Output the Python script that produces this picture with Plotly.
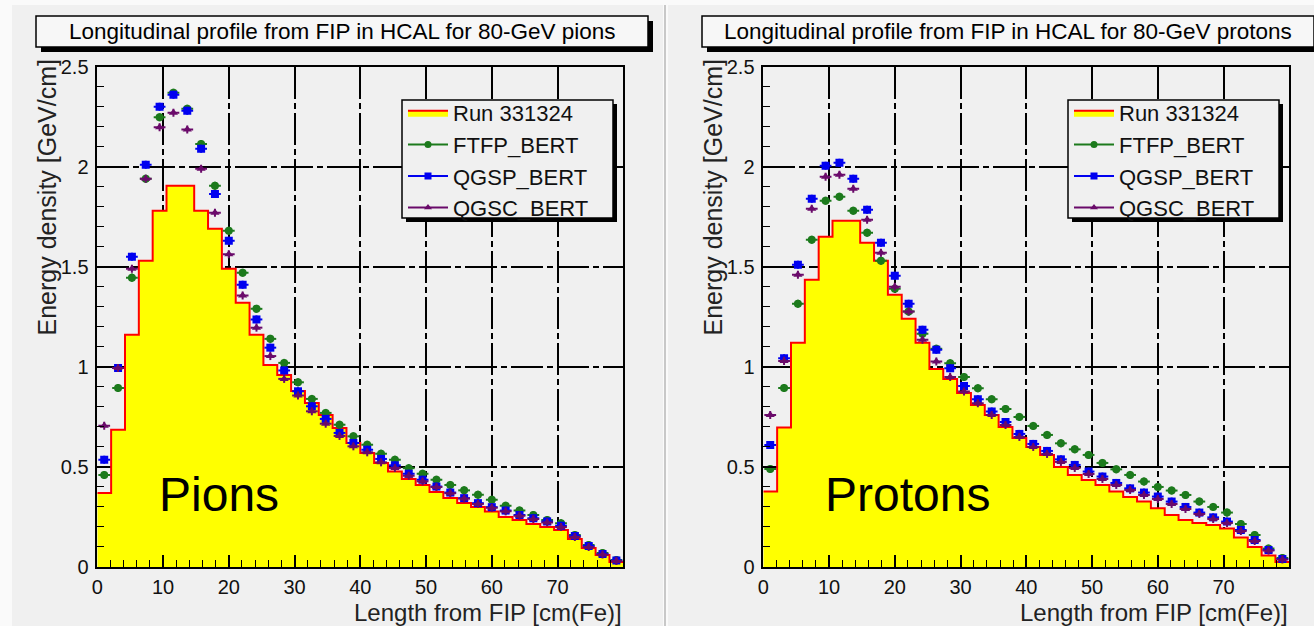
import numpy as np
import plotly.graph_objects as go

W, H = 1314, 626

# ---------------- data ----------------
N_BINS = 38
X_MAX = 80.0
edges = np.linspace(0, X_MAX, N_BINS + 1)
centers = 0.5 * (edges[:-1] + edges[1:])
half_w = 0.5 * (edges[1] - edges[0])

pion_run = [0.37, 0.686, 1.16, 1.53, 1.78, 1.905, 1.905, 1.78, 1.69, 1.49, 1.32, 1.16, 1.01, 0.96,
            0.88, 0.82, 0.76, 0.695, 0.62, 0.57, 0.52, 0.477, 0.44, 0.41, 0.375, 0.345, 0.32, 0.30,
            0.277, 0.25, 0.235, 0.215, 0.20, 0.185, 0.14, 0.095, 0.06, 0.025]
pion_ftfp = [0.46, 0.895, 1.446, 1.94, 2.248, 2.37, 2.29, 2.114, 1.905, 1.68, 1.47, 1.29, 1.14, 1.02,
             0.923, 0.84, 0.77, 0.711, 0.653, 0.611, 0.566, 0.536, 0.494, 0.466, 0.436, 0.41, 0.383,
             0.361, 0.336, 0.306, 0.282, 0.26, 0.235, 0.219, 0.16, 0.11, 0.07, 0.035]
pion_qgsp = [0.536, 0.995, 1.55, 2.01, 2.30, 2.36, 2.28, 2.09, 1.864, 1.63, 1.41, 1.237, 1.096, 0.982,
             0.878, 0.803, 0.74, 0.67, 0.62, 0.586, 0.54, 0.508, 0.466, 0.436, 0.402, 0.372, 0.344,
             0.319, 0.299, 0.282, 0.26, 0.244, 0.227, 0.206, 0.155, 0.105, 0.065, 0.032]
pion_qgsc = [0.706, 0.995, 1.49, 1.94, 2.198, 2.27, 2.186, 1.99, 1.77, 1.563, 1.357, 1.196, 1.054, 0.94,
             0.857, 0.778, 0.716, 0.655, 0.603, 0.573, 0.523, 0.495, 0.456, 0.428, 0.40, 0.369, 0.342,
             0.315, 0.296, 0.278, 0.256, 0.24, 0.222, 0.20, 0.15, 0.10, 0.062, 0.03]

proton_run = [0.377, 0.697, 1.12, 1.435, 1.65, 1.73, 1.73, 1.62, 1.53, 1.36, 1.24, 1.12, 0.99, 0.94,
              0.87, 0.81, 0.76, 0.70, 0.645, 0.60, 0.56, 0.50, 0.46, 0.435, 0.41, 0.377, 0.35, 0.327,
              0.293, 0.26, 0.235, 0.22, 0.21, 0.193, 0.148, 0.10, 0.058, 0.025]
proton_ftfp = [0.49, 0.894, 1.315, 1.635, 1.83, 1.85, 1.78, 1.67, 1.53, 1.39, 1.277, 1.165, 1.09, 1.018,
               0.95, 0.893, 0.838, 0.79, 0.75, 0.705, 0.66, 0.618, 0.588, 0.56, 0.52, 0.488, 0.46,
               0.427, 0.40, 0.382, 0.36, 0.327, 0.30, 0.272, 0.215, 0.16, 0.092, 0.045]
proton_qgsp = [0.61, 1.043, 1.51, 1.84, 2.005, 2.02, 1.94, 1.785, 1.62, 1.455, 1.315, 1.185, 1.085, 0.993,
               0.905, 0.838, 0.777, 0.725, 0.665, 0.615, 0.58, 0.538, 0.51, 0.477, 0.452, 0.42, 0.393,
               0.372, 0.352, 0.327, 0.30, 0.272, 0.248, 0.227, 0.185, 0.135, 0.085, 0.04]
proton_qgsc = [0.76, 1.03, 1.46, 1.79, 1.95, 1.96, 1.89, 1.735, 1.57, 1.40, 1.277, 1.135, 1.027, 0.95,
               0.877, 0.818, 0.76, 0.71, 0.65, 0.60, 0.565, 0.525, 0.495, 0.465, 0.44, 0.41, 0.385,
               0.36, 0.34, 0.315, 0.29, 0.265, 0.24, 0.22, 0.18, 0.13, 0.082, 0.038]

titles = ["Longitudinal profile from FIP in HCAL for 80-GeV pions",
          "Longitudinal profile from FIP in HCAL for 80-GeV protons"]
labels = ["Pions", "Protons"]
series_names = ["Run 331324", "FTFP_BERT", "QGSP_BERT", "QGSC_BERT"]
x_title = "Length from FIP [cm(Fe)]"
y_title = "Energy density [GeV/cm]"
y_ticks = [0, 0.5, 1, 1.5, 2, 2.5]
y_ticklabels = ["0", "0.5", "1", "1.5", "2", "2.5"]
x_ticks = [0, 10, 20, 30, 40, 50, 60, 70]

# ---------------- style ----------------
FONT = "Liberation Sans, Arial, sans-serif"
PANEL_BG = "#f0f0f0"
GREEN = "#1c7a1c"
BLUE = "#0000f0"
PURPLE = "#6a0a6a"
model_styles = [(GREEN, "circle", 8), (BLUE, "square", 8), (PURPLE, "triangle-up", 8)]


def px(x):
    return x / W


def py(y):
    return 1 - y / H


# panel geometry in pixels (left panel); right panel shifted by DX
AX_L, AX_R, AX_T, AX_B = 97.3, 623.3, 66.7, 567.0
DX = 666.0
LABEL_X = [219, 907.5]

fig = go.Figure()

panels = [
    (pion_run, [pion_ftfp, pion_qgsp, pion_qgsc], "x", "y", "legend"),
    (proton_run, [proton_ftfp, proton_qgsp, proton_qgsc], "x2", "y2", "legend2"),
]

for p, (run, models, xa, ya, lg) in enumerate(panels):
    fig.add_trace(go.Scatter(
        x=edges, y=list(run) + [run[-1]], mode="lines", line=dict(color="#ff0000", width=2, shape="hv"),
        fill="tozeroy", fillcolor="#ffff00", name=series_names[0], xaxis=xa, yaxis=ya,
        legend=lg, showlegend=True, legendgroup=f"{p}a"))
    for k, (vals, (col, sym, msz)) in enumerate(zip(models, model_styles)):
        fig.add_trace(go.Scatter(
            x=centers, y=vals, mode="markers",
            marker=dict(color=col, symbol=sym, size=msz),
            error_x=dict(type="constant", value=half_w * 0.85, thickness=2, width=0, color=col),
            error_y=dict(type="constant", value=0.02, thickness=2, width=0, color=col),
            xaxis=xa, yaxis=ya, showlegend=False))
        fig.add_trace(go.Scatter(
            x=[None], y=[None], mode="lines+markers", name=series_names[k + 1],
            line=dict(color=col, width=2), marker=dict(color=col, symbol=sym, size=7),
            xaxis=xa, yaxis=ya, legend=lg, showlegend=True, legendgroup=f"{p}{k}"))

axis_common = dict(
    showline=True, linecolor="black", linewidth=1.5, mirror=True,
    ticks="inside", tickcolor="black", tickwidth=1.5,
    showgrid=True, gridcolor="black", gridwidth=1.5, griddash="32px,4px,6px,4px",
    zeroline=False, tickfont=dict(family=FONT, size=20, color="#111111"),
    layer="above traces", automargin=False,
)

for p in range(2):
    sfx = "" if p == 0 else "2"
    off = DX * p
    fig.layout["xaxis" + sfx] = dict(
        axis_common, domain=[px(AX_L + off), px(AX_R + off)], range=[0, X_MAX],
        tickvals=x_ticks, ticklen=12, ticklabelstandoff=1,
        minor=dict(dtick=2, ticks="inside", ticklen=7, tickcolor="black", tickwidth=1.2, showgrid=False),
        anchor="y" + sfx)
    fig.layout["yaxis" + sfx] = dict(
        axis_common, domain=[py(AX_B), py(AX_T)], range=[0, 2.5],
        tickvals=y_ticks, ticktext=y_ticklabels, ticklen=12, ticklabelstandoff=3,
        minor=dict(dtick=0.1, ticks="inside", ticklen=7, tickcolor="black", tickwidth=1.2, showgrid=False),
        anchor="x" + sfx)

shapes = []
annotations = []

# panel backgrounds
shapes.append(dict(type="rect", xref="paper", yref="paper", layer="below",
                   x0=px(12), x1=px(663), y0=0, y1=py(5), fillcolor=PANEL_BG, line=dict(width=0)))
shapes.append(dict(type="rect", xref="paper", yref="paper", layer="below",
                   x0=px(668), x1=1, y0=0, y1=py(5), fillcolor=PANEL_BG, line=dict(width=0)))
shapes.append(dict(type="line", xref="paper", yref="paper", layer="below",
                   x0=px(665), x1=px(665), y0=0, y1=py(5), line=dict(color="#c8c8c8", width=2)))

for p in range(2):
    off = DX * p
    # title box with shadow
    shapes.append(dict(type="rect", xref="paper", yref="paper", layer="above",
                       x0=px(41 + off), x1=px(653 + off), y0=py(52), y1=py(21),
                       fillcolor="black", line=dict(width=0)))
    shapes.append(dict(type="rect", xref="paper", yref="paper", layer="above",
                       x0=px(36 + off), x1=px(648 + off), y0=py(47), y1=py(16),
                       fillcolor="#f7f7f7", line=dict(color="black", width=1.5)))
    annotations.append(dict(xref="paper", yref="paper", x=px(342 + off), y=py(31.5),
                            text=titles[p], showarrow=False, xanchor="center", yanchor="middle",
                            font=dict(family=FONT, size=22.5, color="black")))
    # legend box with shadow
    shapes.append(dict(type="rect", xref="paper", yref="paper", layer="above",
                       x0=px(406 + off), x1=px(617 + off), y0=py(222), y1=py(104),
                       fillcolor="black", line=dict(width=0)))
    shapes.append(dict(type="rect", xref="paper", yref="paper", layer="above",
                       x0=px(402 + off), x1=px(613 + off), y0=py(218), y1=py(100),
                       fillcolor=PANEL_BG, line=dict(color="black", width=1.5)))
    # axis titles
    annotations.append(dict(xref="paper", yref="paper", x=px(46 + off), y=py(57),
                            text=y_title, textangle=-90, showarrow=False,
                            xanchor="center", yanchor="top",
                            font=dict(family=FONT, size=25, color="#222222")))
    annotations.append(dict(xref="paper", yref="paper", x=px(624 + off), y=py(612),
                            text=x_title, showarrow=False, xanchor="right", yanchor="middle",
                            font=dict(family=FONT, size=24, color="#222222")))
    # big label
    annotations.append(dict(xref="paper", yref="paper", x=px(LABEL_X[p]), y=py(494),
                            text=labels[p], showarrow=False, xanchor="center", yanchor="middle",
                            font=dict(family=FONT, size=48, color="black")))

legend_common = dict(
    bgcolor="rgba(0,0,0,0)", borderwidth=0, font=dict(family=FONT, size=22, color="#111111"),
    traceorder="grouped", tracegroupgap=0, itemwidth=40, xanchor="left", yanchor="top",
)
fig.update_layout(
    width=W, height=H, margin=dict(l=0, r=0, t=0, b=0, pad=0, autoexpand=False),
    paper_bgcolor="#fafafa", plot_bgcolor=PANEL_BG,
    shapes=shapes, annotations=annotations,
    legend=dict(legend_common, x=px(403), y=py(92)),
    legend2=dict(legend_common, x=px(403 + DX), y=py(92)),
)

fig.write_html(
    "out.html",
    post_script="document.body.style.margin='0';document.body.style.padding='0';"
                "document.body.style.overflow='hidden';",
)
